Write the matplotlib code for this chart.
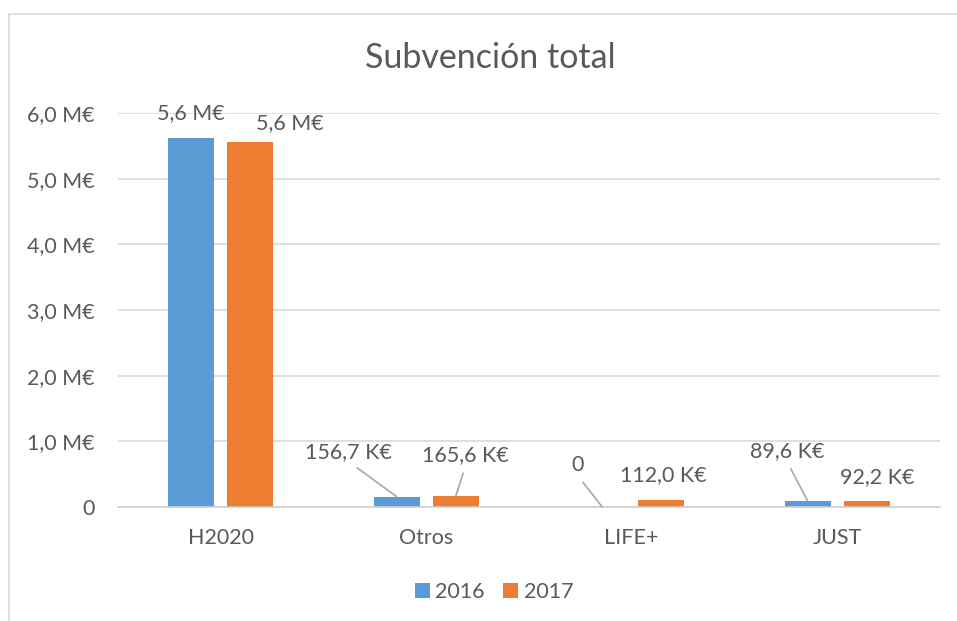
import matplotlib
matplotlib.use("Agg")
import matplotlib.pyplot as plt
from matplotlib.patches import Rectangle
import numpy as np

plt.rcParams['font.family'] = ['Lato', 'DejaVu Sans']

categories = ["H2020", "Otros", "LIFE+", "JUST"]
years = ["2016", "2017"]
values_2016 = [5620000, 156700, 0, 89600]
values_2017 = [5560000, 165600, 112000, 92200]
labels_2016 = ["5,6 M€", "156,7 K€", "0", "89,6 K€"]
labels_2017 = ["5,6 M€", "165,6 K€", "112,0 K€", "92,2 K€"]
y_ticks = [0, 1e6, 2e6, 3e6, 4e6, 5e6, 6e6]
y_tick_labels = ["0", "1,0 M€", "2,0 M€", "3,0 M€", "4,0 M€", "5,0 M€", "6,0 M€"]

BLUE = "#5B9BD5"
ORANGE = "#ED7D31"
TEXT = "#595959"
GRID = "#D9D9D9"
FS = 15.5

# label offsets in pixels from bar top (dx, dy), and whether a leader line is drawn
offsets_2016 = [((0, 25), False), ((-48, 45), True), ((-25, 42), True), ((-21, 50), True)]
offsets_2017 = [((40, 19), False), ((10, 41), True), ((2, 25), False), ((10, 24), False)]

fig = plt.figure(figsize=(9.57, 6.21), dpi=100)
ax = fig.add_axes([118 / 957, 1 - 507 / 621, (940 - 118) / 957, (507 - 113) / 621])

# chart frame
fig.patches.append(Rectangle((9 / 957, -0.1), 1.2, 1 - 14 / 621 + 0.1, transform=fig.transFigure,
                             fill=False, edgecolor="#D9D9D9", linewidth=1.2))

x = np.arange(len(categories))
width = 0.224
off = 0.1436
b1 = ax.bar(x - off, values_2016, width, color=BLUE, label=years[0], zorder=3)
b2 = ax.bar(x + off, values_2017, width, color=ORANGE, label=years[1], zorder=3)

ax.set_xlim(-0.5, len(categories) - 0.5)
ax.set_ylim(0, 6e6)
ax.set_yticks(y_ticks)
ax.set_yticklabels(y_tick_labels)
ax.set_xticks(x)
ax.set_xticklabels(categories)
ax.tick_params(axis="both", length=0, labelsize=FS, labelcolor=TEXT)
ax.tick_params(axis="y", pad=17)
ax.tick_params(axis="x", pad=15)
ax.grid(axis="y", color=GRID, linewidth=1.2, zorder=0)
for s in ["top", "right", "left"]:
    ax.spines[s].set_visible(False)
ax.spines["bottom"].set_color("#D0D0D0")
ax.spines["bottom"].set_linewidth(1.2)
ax.spines["bottom"].set_zorder(4)

for bars, labels, offs in [(b1, labels_2016, offsets_2016), (b2, labels_2017, offsets_2017)]:
    for bar, lab, ((dx, dy), line) in zip(bars, labels, offs):
        xc = bar.get_x() + bar.get_width() / 2
        top = bar.get_height()
        props = None
        if line:
            props = dict(arrowstyle="-", color="#A6A6A6", linewidth=1.2,
                         relpos=(0.5, 0), shrinkA=4, shrinkB=0)
        ax.annotate(lab, xy=(xc, top), xytext=(dx, dy), textcoords="offset pixels",
                    ha="center", va="center", fontsize=FS, color=TEXT,
                    arrowprops=props, zorder=5)

fig.text(490 / 957, 1 - 58 / 621, "Subvención total", ha="center", va="center",
         fontsize=24.5, color=TEXT)

fig.legend(handles=[b1, b2], loc="center", bbox_to_anchor=(494 / 957, 1 - 592 / 621),
           ncol=2, frameon=False, fontsize=FS, labelcolor=TEXT, handlelength=0.7,
           handleheight=0.7, handletextpad=0.25, columnspacing=0.85)

fig.savefig("out.png", dpi=100)
